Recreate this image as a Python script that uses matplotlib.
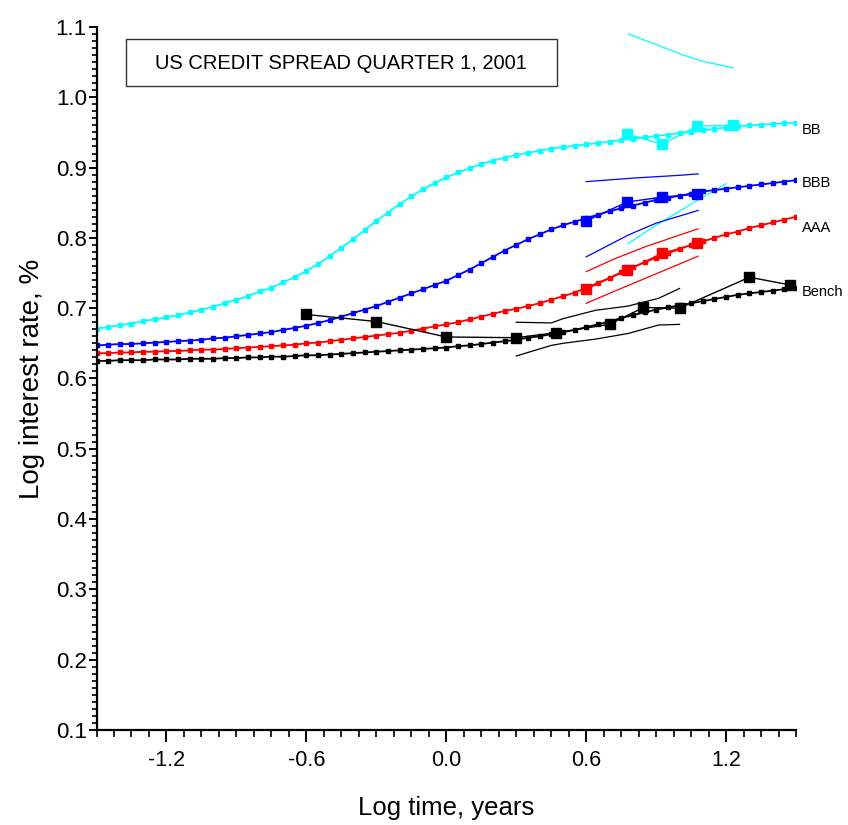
import numpy as np
import matplotlib.pyplot as plt
from matplotlib.ticker import MultipleLocator, FixedLocator
from matplotlib.patches import Rectangle

# fitted term-structure curves, sampled every 0.05 in log time
log_t = np.round(np.arange(-1.5, 1.5001, 0.05), 2)

bb_fit = [0.671, 0.673, 0.676, 0.678, 0.682, 0.684, 0.687, 0.690, 0.694, 0.698,
          0.702, 0.707, 0.712, 0.717, 0.724, 0.729, 0.737, 0.744, 0.753, 0.763,
          0.774, 0.786, 0.798, 0.811, 0.824, 0.836, 0.848, 0.859, 0.869, 0.878,
          0.886, 0.893, 0.899, 0.905, 0.910, 0.914, 0.918, 0.921, 0.924, 0.927,
          0.929, 0.931, 0.933, 0.935, 0.937, 0.939, 0.941, 0.943, 0.945, 0.947,
          0.949, 0.951, 0.953, 0.955, 0.957, 0.959, 0.960, 0.961, 0.962, 0.963, 0.964]

bbb_fit = [0.647, 0.648, 0.649, 0.649, 0.650, 0.651, 0.652, 0.653, 0.654, 0.655,
           0.657, 0.658, 0.660, 0.662, 0.664, 0.666, 0.669, 0.672, 0.675, 0.679,
           0.683, 0.688, 0.693, 0.698, 0.703, 0.709, 0.715, 0.721, 0.727, 0.733,
           0.739, 0.747, 0.755, 0.764, 0.773, 0.782, 0.790, 0.798, 0.805, 0.812,
           0.818, 0.823, 0.828, 0.833, 0.838, 0.842, 0.846, 0.850, 0.854, 0.857,
           0.860, 0.863, 0.866, 0.868, 0.870, 0.872, 0.874, 0.876, 0.878, 0.880, 0.882]

aaa_fit = [0.636, 0.636, 0.637, 0.637, 0.638, 0.638, 0.639, 0.639, 0.640, 0.641,
           0.641, 0.642, 0.643, 0.644, 0.645, 0.646, 0.647, 0.648, 0.650, 0.651,
           0.653, 0.655, 0.657, 0.659, 0.661, 0.663, 0.665, 0.668, 0.671, 0.674,
           0.677, 0.680, 0.684, 0.688, 0.692, 0.696, 0.699, 0.703, 0.707, 0.712,
           0.717, 0.722, 0.729, 0.736, 0.743, 0.751, 0.758, 0.765, 0.772, 0.778,
           0.784, 0.790, 0.795, 0.800, 0.805, 0.809, 0.814, 0.818, 0.822, 0.826, 0.830]

bench_fit = [0.625, 0.625, 0.626, 0.626, 0.626, 0.627, 0.627, 0.627, 0.628, 0.628,
             0.628, 0.629, 0.629, 0.630, 0.630, 0.631, 0.631, 0.632, 0.633, 0.633,
             0.634, 0.635, 0.636, 0.637, 0.638, 0.639, 0.640, 0.641, 0.642, 0.643,
             0.644, 0.646, 0.647, 0.649, 0.651, 0.653, 0.655, 0.658, 0.660, 0.663,
             0.666, 0.669, 0.673, 0.677, 0.681, 0.686, 0.690, 0.694, 0.698, 0.701,
             0.704, 0.707, 0.710, 0.713, 0.716, 0.719, 0.721, 0.723, 0.725, 0.727, 0.728]

# observed yields
bench_x = [-0.60, -0.30, 0.00, 0.30, 0.47, 0.70, 0.845, 1.00, 1.30, 1.475]
bench_y = [0.691, 0.681, 0.659, 0.658, 0.665, 0.677, 0.701, 0.700, 0.744, 0.733]
corp_x = [0.60, 0.775, 0.925, 1.075]
aaa_y = [0.727, 0.754, 0.778, 0.792]
bbb_y = [0.824, 0.851, 0.858, 0.862]
bb_x = [0.775, 0.925, 1.075, 1.23]
bb_y = [0.948, 0.933, 0.959, 0.960]

# confidence bands
bb_up_x = [0.78, 0.90, 1.00, 1.10, 1.23]
bb_up_y = [1.090, 1.075, 1.062, 1.051, 1.042]
bb_lo_x = [0.78, 0.90, 1.00, 1.07, 1.20]
bb_lo_y = [0.792, 0.818, 0.838, 0.852, 0.877]
bbb_up_x = [0.60, 0.80, 1.00, 1.08]
bbb_up_y = [0.880, 0.885, 0.889, 0.891]
bbb_lo_x = [0.60, 0.78, 0.90, 1.08]
bbb_lo_y = [0.773, 0.804, 0.821, 0.839]
aaa_up_x = [0.60, 0.72, 0.85, 1.08]
aaa_up_y = [0.752, 0.770, 0.787, 0.813]
aaa_lo_x = [0.60, 0.72, 0.85, 1.08]
aaa_lo_y = [0.707, 0.724, 0.742, 0.774]
bench_up_x = [0.30, 0.45, 0.50, 0.64, 0.78, 0.91, 1.00]
bench_up_y = [0.680, 0.679, 0.685, 0.697, 0.703, 0.714, 0.728]
bench_lo_x = [0.30, 0.45, 0.50, 0.64, 0.78, 0.91, 1.00]
bench_lo_y = [0.632, 0.647, 0.650, 0.656, 0.664, 0.676, 0.677]

labels = ['BB', 'BBB', 'AAA', 'Bench']
label_y = [0.953, 0.878, 0.814, 0.723]

plt.rcParams['font.family'] = ['Liberation Sans', 'DejaVu Sans']

fig = plt.figure(figsize=(8.48, 8.25), dpi=100)
ax = fig.add_axes([0.1138, 0.1152, 0.8250, 0.8521])

colors = ['#00ffff', '#0000ff', '#ff0000', '#000000']
fits = [bb_fit, bbb_fit, aaa_fit, bench_fit]

# bands
for bx, by, c in [(bb_up_x, bb_up_y, colors[0]), (bb_lo_x, bb_lo_y, colors[0]),
                  (bbb_up_x, bbb_up_y, colors[1]), (bbb_lo_x, bbb_lo_y, colors[1]),
                  (aaa_up_x, aaa_up_y, colors[2]), (aaa_lo_x, aaa_lo_y, colors[2]),
                  (bench_up_x, bench_up_y, colors[3]), (bench_lo_x, bench_lo_y, colors[3])]:
    ax.plot(bx, by, color=c, lw=0.9)

# fitted curves with small markers
for f, c in zip(fits, colors):
    ax.plot(log_t, f, color=c, lw=1.3, marker='s', ms=3.2, mec=c, mfc=c)

# observed points
ax.plot(bb_x, bb_y, color=colors[0], lw=1.0, marker='s', ms=7.5)
ax.plot(corp_x, bbb_y, color=colors[1], lw=1.0, marker='s', ms=7.5)
ax.plot(corp_x, aaa_y, color=colors[2], lw=1.0, marker='s', ms=7.5)
ax.plot(bench_x, bench_y, color=colors[3], lw=1.0, marker='s', ms=7.5)

for lab, ly in zip(labels, label_y):
    ax.text(1.525, ly, lab, fontsize=10.5, va='center', ha='left', clip_on=False)

ax.set_xlim(-1.5, 1.5)
ax.set_ylim(0.1, 1.1)
ax.xaxis.set_major_locator(FixedLocator([-1.2, -0.6, 0.0, 0.6, 1.2]))
ax.set_xticklabels(['-1.2', '-0.6', '0.0', '0.6', '1.2'])
ax.xaxis.set_minor_locator(FixedLocator(np.arange(-1.5, 1.5001, 0.075)))
ax.yaxis.set_major_locator(MultipleLocator(0.1))
ax.yaxis.set_minor_locator(MultipleLocator(0.01))
ax.yaxis.set_major_formatter(plt.FuncFormatter(lambda v, p: f'{v:.1f}'))

for s in ['top', 'right']:
    ax.spines[s].set_visible(False)
for s in ['left', 'bottom']:
    ax.spines[s].set_linewidth(1.6)

ax.tick_params(axis='x', which='major', length=8.5, width=1.4, labelsize=15.5, pad=6)
ax.tick_params(axis='x', which='minor', length=5, width=1.2)
ax.tick_params(axis='y', which='major', length=6, width=1.4, labelsize=16, pad=1)
ax.tick_params(axis='y', which='minor', length=3.5, width=1.2)

ax.set_xlabel('Log time, years', fontsize=18.5, labelpad=18)
ax.set_ylabel('Log interest rate, %', fontsize=20, labelpad=8)

fig.patches.append(Rectangle((0.1482, 0.8958), 0.5083, 0.0566, transform=fig.transFigure,
                             fill=False, edgecolor='#333333', lw=1.0))
fig.text(0.4021, 0.9236, 'US CREDIT SPREAD QUARTER 1, 2001', fontsize=14.5,
         ha='center', va='center')

fig.savefig('out.png', dpi=100)
